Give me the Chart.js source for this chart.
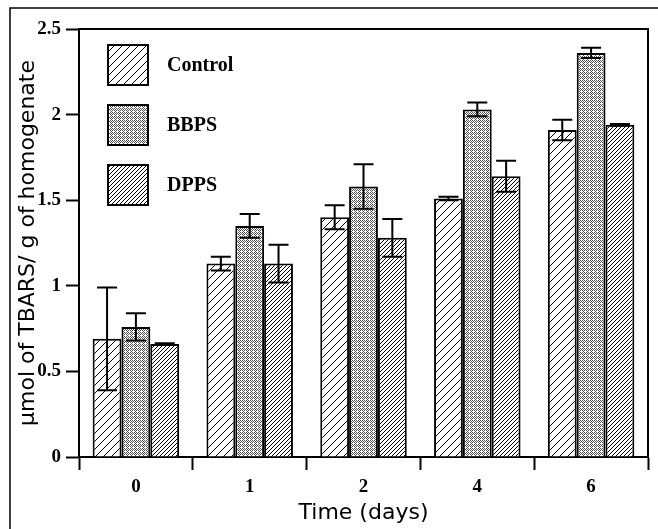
<!DOCTYPE html>
<html>
<head>
<meta charset="utf-8">
<script src="https://cdn.jsdelivr.net/npm/chart.js@4.4.1/dist/chart.umd.min.js"></script>
<style>
  html, body { margin: 0; padding: 0; background: #fff; }
  canvas { display: block; }
</style>
</head>
<body>
<canvas id="chart" width="658" height="529"></canvas>
<script>
// time points (days)
const days = ['0', '1', '2', '4', '6'];
const seriesNames = ['Control', 'BBPS', 'DPPS'];

// umol TBARS / g homogenate
const controlValues = [0.69, 1.13, 1.40, 1.51, 1.91];
const bbpsValues    = [0.76, 1.35, 1.58, 2.03, 2.36];
const dppsValues    = [0.66, 1.13, 1.28, 1.64, 1.94];

// error bars (+/-)
const controlErr = [0.30, 0.04, 0.07, 0.01, 0.06];
const bbpsErr    = [0.08, 0.07, 0.13, 0.04, 0.03];
const dppsErr    = [0.005, 0.11, 0.11, 0.09, 0.005];

const yTickLabels = ['0', '0.5', '1', '1.5', '2', '2.5'];

const ctx = document.getElementById('chart').getContext('2d');

// fill patterns
function hatch(s, lw) {
    const c = document.createElement('canvas');
    c.width = s; c.height = s;
    const g = c.getContext('2d');
    g.fillStyle = '#fff';
    g.fillRect(0, 0, s, s);
    g.strokeStyle = '#000';
    g.lineWidth = lw;
    g.beginPath();
    g.moveTo(0, s); g.lineTo(s, 0);
    g.moveTo(-s / 2, s / 2); g.lineTo(s / 2, -s / 2);
    g.moveTo(s / 2, s * 1.5); g.lineTo(s * 1.5, s / 2);
    g.stroke();
    return ctx.createPattern(c, 'repeat');
}

function stipple() {
    const c = document.createElement('canvas');
    c.width = 4; c.height = 4;
    const g = c.getContext('2d');
    g.fillStyle = '#fff';
    g.fillRect(0, 0, 4, 4);
    g.fillStyle = '#555';
    [[0, 0], [2, 0], [1, 1], [3, 1], [0, 2], [2, 2], [3, 3]].forEach(p => g.fillRect(p[0], p[1], 1, 1));
    return ctx.createPattern(c, 'repeat');
}

const fills = [hatch(8, 1), stipple(), hatch(4, 1)];

// frame, top and right plot lines
const frame = {
    id: 'frame',
    beforeDraw(chart) {
        const c = chart.ctx;
        c.save();
        c.fillStyle = '#fff';
        c.fillRect(0, 0, chart.width, chart.height);
        c.strokeStyle = '#000';
        c.lineWidth = 1.5;
        c.beginPath();
        c.moveTo(10, chart.height);
        c.lineTo(10, 8);
        c.lineTo(chart.width, 8);
        c.stroke();
        c.restore();
    },
    afterDraw(chart) {
        const c = chart.ctx, a = chart.chartArea;
        c.save();
        c.strokeStyle = '#000';
        c.lineWidth = 2;
        c.beginPath();
        c.moveTo(a.left, a.top);
        c.lineTo(a.right, a.top);
        c.lineTo(a.right, a.bottom);
        c.stroke();
        c.restore();
    }
};

const errorBars = {
    id: 'errorBars',
    afterDatasetsDraw(chart) {
        const c = chart.ctx, y = chart.scales.y;
        c.save();
        c.strokeStyle = '#000';
        c.lineWidth = 2;
        chart.data.datasets.forEach((ds, i) => {
            chart.getDatasetMeta(i).data.forEach((bar, j) => {
                const top = y.getPixelForValue(ds.data[j] + ds.errors[j]);
                const bot = y.getPixelForValue(ds.data[j] - ds.errors[j]);
                c.beginPath();
                c.moveTo(bar.x, top); c.lineTo(bar.x, bot);
                c.moveTo(bar.x - 10, top); c.lineTo(bar.x + 10, top);
                c.moveTo(bar.x - 10, bot); c.lineTo(bar.x + 10, bot);
                c.stroke();
            });
        });
        c.restore();
    }
};

// legend boxes inside the plot area
const legendInside = {
    id: 'legendInside',
    afterDraw(chart) {
        const c = chart.ctx, a = chart.chartArea;
        c.save();
        chart.data.datasets.forEach((ds, i) => {
            const x = a.left + 29, y = a.top + 16 + i * 60;
            c.fillStyle = ds.backgroundColor;
            c.fillRect(x, y, 40, 40);
            c.lineWidth = 2;
            c.strokeStyle = '#000';
            c.strokeRect(x, y, 40, 40);
            c.fillStyle = '#000';
            c.font = 'bold 20px "Liberation Serif"';
            c.textBaseline = 'middle';
            c.fillText(ds.label, x + 59, y + 21);
        });
        c.restore();
    }
};

const values = [controlValues, bbpsValues, dppsValues];
const errs = [controlErr, bbpsErr, dppsErr];

const tickFont = { family: 'Liberation Serif', weight: 'bold', size: 19 };
const titleFont = { family: 'DejaVu Sans', size: 22 };

new Chart(ctx, {
    type: 'bar',
    data: {
        labels: days,
        datasets: seriesNames.map((name, i) => ({
            label: name,
            data: values[i],
            errors: errs[i],
            backgroundColor: fills[i],
            borderColor: '#000',
            borderWidth: 2,
            categoryPercentage: 0.76,
            barPercentage: 1
        }))
    },
    options: {
        responsive: false,
        animation: false,
        devicePixelRatio: 1,
        layout: { padding: { top: 29, right: 10, left: 0, bottom: 0 } },
        scales: {
            x: {
                grid: { drawOnChartArea: false, tickLength: 13, tickWidth: 2, tickColor: '#000', offset: true },
                border: { color: '#000', width: 2 },
                ticks: { color: '#000', font: tickFont, padding: 6 },
                title: { display: true, text: 'Time (days)', color: '#000', font: titleFont, padding: { top: 0, bottom: 3 } },
                afterFit(scale) { scale.height = 72; }
            },
            y: {
                min: 0,
                max: 2.5,
                grid: { drawOnChartArea: false, tickLength: 13, tickWidth: 2, tickColor: '#000' },
                border: { color: '#000', width: 2 },
                ticks: {
                    stepSize: 0.5,
                    color: '#000',
                    font: tickFont,
                    padding: 5,
                    callback: (v, i) => yTickLabels[i]
                },
                title: { display: true, text: 'µmol of TBARS/ g of homogenate', color: '#000', font: titleFont, padding: { top: 15, bottom: 0 } },
                afterFit(scale) { scale.width = 79; }
            }
        },
        plugins: {
            legend: { display: false },
            tooltip: { enabled: false }
        }
    },
    plugins: [frame, errorBars, legendInside]
});
</script>
</body>
</html>
